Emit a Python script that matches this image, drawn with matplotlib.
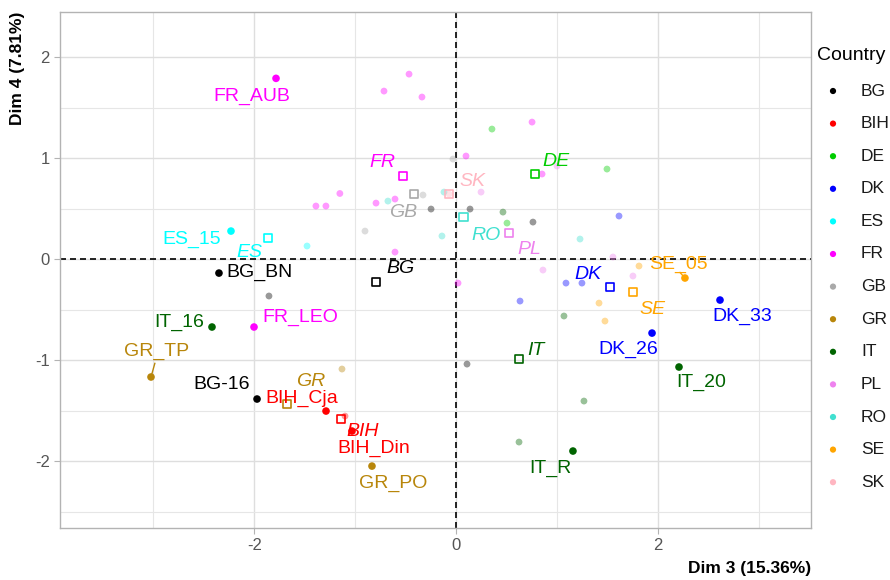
import matplotlib
matplotlib.use("Agg")
import matplotlib.pyplot as plt
import numpy as np

plt.rcParams['font.family'] = ['Liberation Sans', 'DejaVu Sans']
plt.rcParams['axes.unicode_minus'] = False

# ---------------- data ----------------
countries = ['BG', 'BIH', 'DE', 'DK', 'ES', 'FR', 'GB', 'GR', 'IT', 'PL', 'RO', 'SE', 'SK']
colors = ['#000000', '#FF0000', '#00CD00', '#0000FF', '#00FFFF', '#FF00FF', '#A9A9A9',
          '#B8860B', '#006400', '#EE82EE', '#40E0D0', '#FFA500', '#FFB6C1']

# active individuals (faded points): country, Dim 3, Dim 4
act_country = ['BG', 'BG', 'BG', 'BG', 'BG',
               'GB', 'GB', 'GB',
               'DE', 'DE', 'DE',
               'DK', 'DK', 'DK', 'DK',
               'ES',
               'FR', 'FR', 'FR', 'FR', 'FR', 'FR', 'FR', 'FR', 'FR', 'FR', 'FR', 'FR', 'FR',
               'GR',
               'IT', 'IT', 'IT', 'IT',
               'PL', 'PL', 'PL', 'PL', 'PL',
               'RO', 'RO', 'RO', 'RO',
               'SE', 'SE', 'SE',
               'BIH', 'SK']
act_x = [-0.250, 0.136, 0.759, -1.855, 0.106,
         -0.033, -0.330, -0.904,
         0.353, 1.492, 0.502,
         1.611, 1.086, 1.244, 0.631,
         -1.478,
         -0.468, -0.716, -0.340, 0.096, 0.750, 0.849, -1.153, -1.390, -1.291, -0.795, -0.607, -0.607, 0.017,
         -1.132,
         0.462, 1.066, 1.264, 0.621,
         0.245, 0.858, 1.551, 1.749, 0.997,
         -0.122, -0.142, 1.225, -0.677,
         1.809, 1.413, 1.472,
         -1.102, -0.072]
act_y = [0.498, 0.498, 0.369, -0.363, -1.037,
         0.993, 0.637, 0.280,
         1.290, 0.894, 0.359,
         0.429, -0.235, -0.235, -0.413,
         0.132,
         1.834, 1.666, 1.607, 1.023, 1.359, 0.845, 0.652, 0.528, 0.528, 0.557, 0.597, 0.072, -0.235,
         -1.086,
         0.468, -0.561, -1.403, -1.809,
         0.666, -0.106, 0.023, -0.165, 0.924,
         0.666, 0.231, 0.201, 0.577,
         -0.066, -0.433, -0.611,
         -1.552, 0.647]

# supplementary (labelled) individuals
sup_names = ['FR_AUB', 'ES_15', 'BG_BN', 'IT_16', 'FR_LEO', 'GR_TP', 'BG-16', 'BIH_Cja',
             'BIH_Din', 'GR_PO', 'IT_R', 'IT_20', 'DK_26', 'DK_33', 'SE_05']
sup_country = ['FR', 'ES', 'BG', 'IT', 'FR', 'GR', 'BG', 'BIH', 'BIH', 'GR', 'IT', 'IT', 'DK', 'DK', 'SE']
sup_x = [-1.785, -2.231, -2.350, -2.419, -2.003, -3.023, -1.973, -1.290,
         -1.033, -0.835, 1.155, 2.205, 1.938, 2.611, 2.264]
sup_y = [1.792, 0.280, -0.136, -0.670, -0.670, -1.165, -1.383, -1.502,
         -1.700, -2.047, -1.898, -1.066, -0.730, -0.403, -0.185]

# country centroids (open squares)
cen_country = ['FR', 'GB', 'SK', 'RO', 'DE', 'PL', 'DK', 'SE', 'ES', 'BG', 'IT', 'GR', 'BIH']
cen_x = [-0.528, -0.419, -0.072, 0.072, 0.779, 0.522, 1.522, 1.749, -1.865, -0.795, 0.621, -1.676, -1.142]
cen_y = [0.825, 0.647, 0.647, 0.419, 0.845, 0.260, -0.274, -0.324, 0.211, -0.225, -0.987, -1.432, -1.581]

x_ticks = [-2, 0, 2]
y_ticks = [-2, -1, 0, 1, 2]
x_title = 'Dim 3 (15.36%)'
y_title = 'Dim 4 (7.81%)'
legend_title = 'Country'

# ---------------- label layout ----------------
sup_label_pos = {
    'FR_AUB': (-2.023, 1.617), 'ES_15': (-2.617, 0.201), 'BG_BN': (-1.953, -0.126),
    'IT_16': (-2.746, -0.620), 'FR_LEO': (-1.547, -0.571), 'GR_TP': (-2.964, -0.914),
    'BG-16': (-2.320, -1.235), 'BIH_Cja': (-1.528, -1.374), 'BIH_Din': (-0.815, -1.875),
    'GR_PO': (-0.627, -2.215), 'IT_R': (0.928, -2.066), 'IT_20': (2.423, -1.215),
    'DK_26': (1.700, -0.888), 'DK_33': (2.829, -0.567), 'SE_05': (2.195, -0.047)}
cen_label_pos = {
    'FR': (-0.736, 0.963), 'GB': (-0.528, 0.468), 'SK': (0.155, 0.775), 'RO': (0.294, 0.241),
    'DE': (0.987, 0.973), 'PL': (0.720, 0.102), 'DK': (1.304, -0.146), 'SE': (1.947, -0.492),
    'ES': (-2.053, 0.072), 'BG': (-0.548, -0.086), 'IT': (0.789, -0.898), 'GR': (-1.438, -1.205),
    'BIH': (-0.924, -1.705)}
segments = {'GR_TP': (-2.985, -1.03), 'SE_05': (2.215, -0.13)}

cmap = dict(zip(countries, colors))

# ---------------- figure ----------------
W, H = 890, 580
fig = plt.figure(figsize=(W / 100, H / 100), dpi=100)
L, R, T, B = 60, 811, 12, 528
ax = fig.add_axes([L / W, 1 - B / H, (R - L) / W, (B - T) / H])
ax.set_xlim(-3.924, 3.512)
ax.set_ylim(-2.660, 2.449)

# grid
ax.set_xticks(x_ticks)
ax.set_yticks(y_ticks)
ax.set_xticks([-3, -1, 1, 3], minor=True)
ax.set_yticks([-2.5, -1.5, -0.5, 0.5, 1.5], minor=True)
ax.grid(True, which='major', color='#DEDEDE', lw=1.0, zorder=0)
ax.grid(True, which='minor', color='#E6E6E6', lw=0.8, zorder=0)
ax.set_axisbelow(True)
ax.tick_params(which='minor', length=0)
ax.tick_params(which='major', length=4.3, width=0.8, color='#B3B3B3',
               labelcolor='#555555', labelsize=12, pad=3)
for s in ax.spines.values():
    s.set_color('#B3B3B3')
    s.set_linewidth(1.0)

# dashed reference lines
ax.axhline(0, color='black', lw=1.2, ls=(0, (3.6, 2.4)), zorder=1)
ax.axvline(0, color='black', lw=1.2, ls=(0, (3.6, 2.4)), zorder=1)

# active individuals
ax.scatter(act_x, act_y, s=24, c=[cmap[c] for c in act_country], alpha=0.4,
           linewidths=0, zorder=2)

# centroids
ax.scatter(cen_x, cen_y, s=40, marker='s', facecolors='none',
           edgecolors=[cmap[c] for c in cen_country], linewidths=1.2, zorder=3)
for c, x, y in zip(cen_country, cen_x, cen_y):
    lx, ly = cen_label_pos[c]
    ax.text(lx, ly, c, color=cmap[c], fontsize=14, style='italic',
            ha='center', va='center', zorder=5)

# supplementary individuals
ax.scatter(sup_x, sup_y, s=30, c=[cmap[c] for c in sup_country], linewidths=0, zorder=4)
for n, c, x, y in zip(sup_names, sup_country, sup_x, sup_y):
    lx, ly = sup_label_pos[n]
    ax.text(lx, ly, n, color=cmap[c], fontsize=14, ha='center', va='center', zorder=5)
    if n in segments:
        sx, sy = segments[n]
        ax.plot([sx, x], [sy, y], color=cmap[c], lw=1.0, zorder=4)

# axis titles
ax.text(1.0, -(568 - B) / (B - T), x_title, transform=ax.transAxes, ha='right',
        va='center', fontsize=12.5, fontweight='bold', color='black')
ax.text(-(L - 18) / (R - L), 1.0, y_title, transform=ax.transAxes, ha='center',
        va='top', rotation=90, fontsize=12.5, fontweight='bold', color='black')

# legend (drawn in a pixel-coordinate overlay)
lg = fig.add_axes([0, 0, 1, 1], facecolor='none')
lg.set_xlim(0, W)
lg.set_ylim(H, 0)
lg.axis('off')
lg.text(817, 55, legend_title, fontsize=14, ha='left', va='center', color='black')
ys = 91 + 32.6 * np.arange(len(countries))
lg.scatter(np.full(len(countries), 833), ys, s=20, c=colors, linewidths=0)
for c, y in zip(countries, ys):
    lg.text(861, y, c, fontsize=12.5, ha='left', va='center', color='#1A1A1A')

fig.savefig('out.png', dpi=100)
